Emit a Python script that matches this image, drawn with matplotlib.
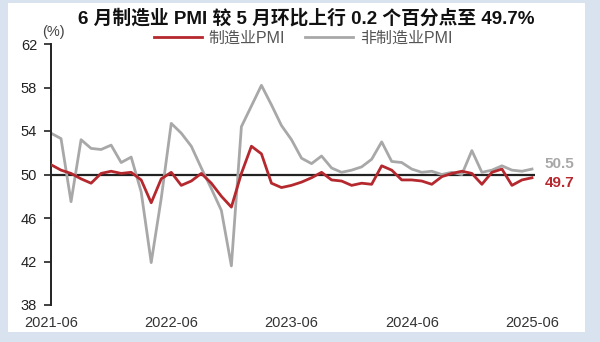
import matplotlib
matplotlib.use('Agg')
import matplotlib.pyplot as plt
from matplotlib.patches import Rectangle

plt.rcParams['font.family'] = ['Liberation Sans', 'Noto Sans CJK SC', 'DejaVu Sans']

# 2021-06 ~ 2025-06 monthly
months = ['2021-06', '2021-07', '2021-08', '2021-09', '2021-10', '2021-11', '2021-12',
          '2022-01', '2022-02', '2022-03', '2022-04', '2022-05', '2022-06', '2022-07',
          '2022-08', '2022-09', '2022-10', '2022-11', '2022-12',
          '2023-01', '2023-02', '2023-03', '2023-04', '2023-05', '2023-06', '2023-07',
          '2023-08', '2023-09', '2023-10', '2023-11', '2023-12',
          '2024-01', '2024-02', '2024-03', '2024-04', '2024-05', '2024-06', '2024-07',
          '2024-08', '2024-09', '2024-10', '2024-11', '2024-12',
          '2025-01', '2025-02', '2025-03', '2025-04', '2025-05', '2025-06']
mfg_pmi = [50.9, 50.4, 50.1, 49.6, 49.2, 50.1, 50.3,
           50.1, 50.2, 49.5, 47.4, 49.6, 50.2, 49.0, 49.4, 50.1, 49.2, 48.0, 47.0,
           50.1, 52.6, 51.9, 49.2, 48.8, 49.0, 49.3, 49.7, 50.2, 49.5, 49.4, 49.0,
           49.2, 49.1, 50.8, 50.4, 49.5, 49.5, 49.4, 49.1, 49.8, 50.1, 50.3, 50.1,
           49.1, 50.2, 50.5, 49.0, 49.5, 49.7]
non_mfg_pmi = [53.8, 53.3, 47.5, 53.2, 52.4, 52.3, 52.7,
               51.1, 51.6, 48.4, 41.9, 47.8, 54.7, 53.8, 52.6, 50.6, 48.7, 46.7, 41.6,
               54.4, 56.3, 58.2, 56.4, 54.5, 53.2, 51.5, 51.0, 51.7, 50.6, 50.2, 50.4,
               50.7, 51.4, 53.0, 51.2, 51.1, 50.5, 50.2, 50.3, 50.0, 50.2, 50.0, 52.2,
               50.2, 50.4, 50.8, 50.4, 50.3, 50.5]
xtick_labels = ['2021-06', '2022-06', '2023-06', '2024-06', '2025-06']
yticks = [38, 42, 46, 50, 54, 58, 62]

red = '#b5282e'
grey = '#a8a8a8'

fig = plt.figure(figsize=(6, 3.42), dpi=100, facecolor='#d9e3ef')
# white panel inside the blue frame
fig.patches.append(Rectangle((8/600, 1-332/342), 577/600, 329/342,
                             transform=fig.transFigure, facecolor='white',
                             edgecolor='none', zorder=-10))

ax = fig.add_axes([51/600, 1-305/342, 484/600, 261/342])
ax.patch.set_alpha(0)
x = list(range(len(months)))
ax.axhline(50, color='#222222', lw=1.6, zorder=1)
ax.plot(x, non_mfg_pmi, color=grey, lw=2.0, label='非制造业PMI', zorder=2)
ax.plot(x, mfg_pmi, color=red, lw=2.0, label='制造业PMI', zorder=3)

ax.set_xlim(0, len(months) - 1 + 0.3)
ax.set_ylim(38, 62)
ax.set_yticks(yticks)
ax.set_xticks([months.index(m) for m in xtick_labels])
ax.set_xticklabels(xtick_labels)
ax.tick_params(axis='x', length=0, labelsize=10.5, colors='#333333', pad=8)
ax.tick_params(axis='y', length=5, width=1.2, direction='out', labelsize=10.5,
               colors='#222222', pad=5)
for s in ['top', 'right', 'bottom']:
    ax.spines[s].set_visible(False)
ax.spines['left'].set_color('#222222')
ax.spines['left'].set_linewidth(1.4)

# end labels
ax.annotate('%.1f' % non_mfg_pmi[-1], xy=(x[-1], non_mfg_pmi[-1]), xytext=(9, 3.5),
            textcoords='offset points', color=grey, fontsize=11, fontweight='bold',
            va='center')
ax.annotate('%.1f' % mfg_pmi[-1], xy=(x[-1], mfg_pmi[-1]), xytext=(9, -3.5),
            textcoords='offset points', color=red, fontsize=11, fontweight='bold',
            va='center')

fig.text(306/600, 1-18/342, '6 月制造业 PMI 较 5 月环比上行 0.2 个百分点至 49.7%',
         ha='center', va='center', fontsize=13.5, fontweight='bold', color='#111111')
fig.text(42/600, 1-32/342, '(%)', ha='left', va='center', fontsize=10.5, color='#444444')

h, l = ax.get_legend_handles_labels()
leg = fig.legend([h[1], h[0]], [l[1], l[0]], loc='center', ncol=2,
                 bbox_to_anchor=(303/600, 1-38/342), frameon=False, fontsize=11.5,
                 handlelength=3.0, columnspacing=1.3, handletextpad=0.4,
                 borderaxespad=0, borderpad=0)
for t in leg.get_texts():
    t.set_color('#555555')

fig.savefig('out.png', dpi=100, facecolor=fig.get_facecolor())
